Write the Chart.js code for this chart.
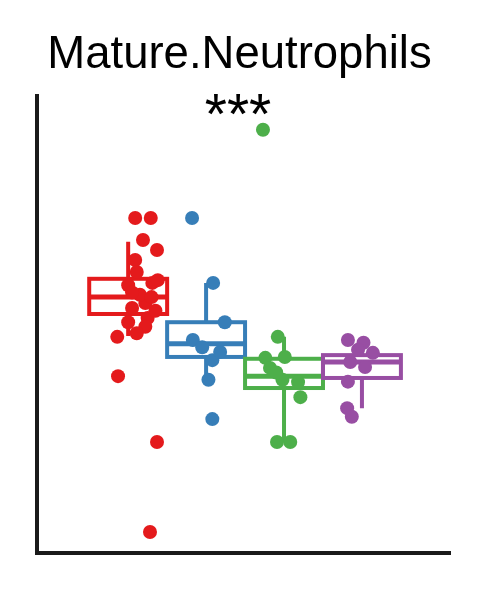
<!DOCTYPE html>
<html>
<head>
<meta charset="utf-8">
<script src="https://cdn.jsdelivr.net/npm/chart.js@4.4.1/dist/chart.umd.min.js"></script>
<style>
    body { margin: 0; background: #fff; }
    #wrap { position: relative; width: 486px; height: 590px; }
    #stars {
        position: absolute; left: 0; width: 476px; top: 86px;
        text-align: center; font: 57px "Liberation Sans", Arial, sans-serif;
        line-height: 56px; color: #000;
    }
</style>
</head>
<body>
<div id="wrap">
    <canvas id="chart"></canvas>
    <div id="stars">***</div>
</div>
<script>
// groups (x positions 1..4) and their colours (RColorBrewer Set1)
const groups = ['Red', 'Blue', 'Green', 'Purple'];
const colors = ['#E41A1C', '#377EB8', '#4DAF4A', '#984EA3'];

// box statistics per group
const whiskerLo = [47.5, 37.9, 24.3, 31.7];
const q1 = [52.3, 42.9, 36.1, 38.3];
const median = [56.0, 45.8, 38.7, 41.8];
const q3 = [60.0, 50.5, 42.5, 43.3];
const whiskerHi = [68.1, 59.1, 47.3, 45.5];

// jittered points: x is group position + jitter, y is value
const redX = [1.09, 1.29, 1.19, 1.37, 1.09, 1.31, 1.00, 1.38, 1.11, 1.22, 1.05, 1.25, 1.00, 1.22, 1.11, 0.86, 1.15, 1.30, 1.05, 1.35, 0.87, 1.37, 1.28];
const redY = [73.3, 73.3, 68.5, 66.3, 64.1, 59.1, 58.6, 59.7, 61.5, 54.7, 53.6, 51.4, 50.5, 49.5, 48.1, 47.3, 56.5, 56.0, 57.0, 53.0, 38.7, 24.3, 4.6];
const blueX = [1.82, 2.09, 2.24, 1.83, 2.08, 2.03, 2.08, 1.95, 2.18];
const blueY = [73.3, 59.1, 50.5, 46.6, 42.2, 37.9, 29.3, 45.0, 44.0];
const greenX = [2.73, 2.92, 3.01, 2.76, 2.82, 2.98, 3.18, 3.21, 2.91, 3.08, 2.90];
const greenY = [92.6, 47.3, 42.9, 42.7, 40.5, 37.9, 37.4, 34.1, 24.3, 24.3, 39.5];
const purpleX = [3.82, 4.02, 4.14, 3.85, 4.04, 3.82, 3.81, 3.87, 3.95];
const purpleY = [46.6, 46.0, 43.8, 41.8, 40.7, 37.5, 31.7, 29.8, 44.5];

const pointsX = [redX, blueX, greenX, purpleX];
const pointsY = [redY, blueY, greenY, purpleY];
const boxHalf = 0.5;

const boxPlugin = {
    id: 'boxes',
    beforeDatasetsDraw(chart) {
        const ctx = chart.ctx;
        const xs = chart.scales.x, ys = chart.scales.y;
        ctx.save();
        groups.forEach((g, i) => {
            const c = i + 1;
            const left = xs.getPixelForValue(c - boxHalf);
            const right = xs.getPixelForValue(c + boxHalf);
            const mid = xs.getPixelForValue(c);
            const top = ys.getPixelForValue(q3[i]);
            const bottom = ys.getPixelForValue(q1[i]);
            ctx.strokeStyle = colors[i];
            ctx.lineWidth = 4;
            // whiskers
            ctx.beginPath();
            ctx.moveTo(mid, top);
            ctx.lineTo(mid, ys.getPixelForValue(whiskerHi[i]));
            ctx.moveTo(mid, bottom);
            ctx.lineTo(mid, ys.getPixelForValue(whiskerLo[i]));
            ctx.stroke();
            // box
            ctx.strokeRect(left, top, right - left, bottom - top);
            // median
            ctx.lineWidth = 5;
            ctx.beginPath();
            ctx.moveTo(left, ys.getPixelForValue(median[i]));
            ctx.lineTo(right, ys.getPixelForValue(median[i]));
            ctx.stroke();
        });
        ctx.restore();
    }
};

const datasets = groups.map((g, i) => ({
    label: g,
    data: pointsX[i].map((x, j) => ({ x: x, y: pointsY[i][j] })),
    backgroundColor: colors[i],
    borderColor: colors[i],
    borderWidth: 0,
    pointRadius: 7,
    pointHoverRadius: 7
}));

new Chart(document.getElementById('chart'), {
    type: 'scatter',
    data: { datasets },
    plugins: [boxPlugin],
    options: {
        responsive: true,
        maintainAspectRatio: false,
        animation: false,
        layout: { padding: { left: 29, right: 36, top: 0, bottom: 29 } },
        plugins: {
            legend: { display: false },
            tooltip: { enabled: false },
            title: {
                display: true,
                text: 'Mature.Neutrophils',
                color: '#000',
                font: { family: '"Liberation Sans", Arial, sans-serif', size: 45.5, weight: 'normal' },
                padding: { top: 28, bottom: 13.4 }
            }
        },
        scales: {
            x: {
                type: 'linear', min: -0.17, max: 5.13,
                grid: { display: false },
                ticks: { display: false },
                border: { display: true, color: '#1a1a1a', width: 4 }
            },
            y: {
                min: 0, max: 100,
                grid: { display: false },
                ticks: { display: false },
                border: { display: true, color: '#1a1a1a', width: 4 }
            }
        }
    }
});
</script>
</body>
</html>
